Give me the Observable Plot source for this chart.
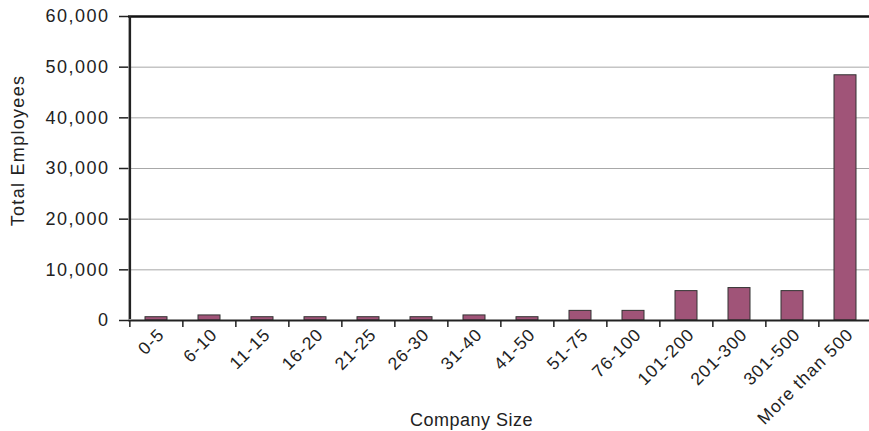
<!DOCTYPE html>
<html>
<head>
<meta charset="utf-8">
<script src="https://cdn.jsdelivr.net/npm/d3@7"></script>
<script src="https://cdn.jsdelivr.net/npm/@observablehq/plot@0.6"></script>
<style>
  html, body { margin: 0; padding: 0; background: #fff; overflow: hidden; }
</style>
</head>
<body>
<div id="chart"></div>
<script>
const categories = ["0-5", "6-10", "11-15", "16-20", "21-25", "26-30", "31-40", "41-50", "51-75", "76-100", "101-200", "201-300", "301-500", "More than 500"];
const employees = [650, 1000, 650, 650, 650, 650, 1000, 650, 1900, 1900, 5800, 6400, 5800, 48400];
const yTicks = [0, 10000, 20000, 30000, 40000, 50000, 60000];
const gridTicks = [10000, 20000, 30000, 40000, 50000];
const yTitle = "Total Employees";
const xTitle = "Company Size";

const data = categories.map((c, i) => ({size: c, total: employees[i]}));

const W = 869, H = 431;
const mL = 128, mR = -5, mT = 16, mB = 111;
const step = (W - mR - mL) / categories.length;
const font = "'Liberation Sans', Arial, Helvetica, sans-serif";

const chart = Plot.plot({
  width: W,
  height: H,
  marginLeft: mL,
  marginRight: mR,
  marginTop: mT,
  marginBottom: mB,
  style: {fontFamily: font, color: "#222", background: "#fff", overflow: "visible"},
  x: {domain: categories, paddingInner: 0.58, paddingOuter: 0.29, axis: null},
  y: {domain: [0, 60000], axis: null},
  marks: [
    Plot.ruleY(gridTicks, {stroke: "#a8a8a8", strokeWidth: 1}),
    Plot.ruleY([60000], {stroke: "#111", strokeWidth: 2.5}),
    Plot.barY(data, {x: "size", y: "total", fill: "#a05478", stroke: "#333", strokeWidth: 1}),
    Plot.ruleY([0], {stroke: "#222", strokeWidth: 2}),
    Plot.ruleX([categories[0]], {y1: 0, y2: 60000, dx: -step / 2, stroke: "#222", strokeWidth: 2.5, insetTop: -1}),
    // x ticks at category boundaries
    Plot.ruleX(categories, {y1: 0, y2: 0, dx: -step / 2, insetBottom: -7, stroke: "#222", strokeWidth: 1.5}),
    Plot.axisY({ticks: yTicks, tickSize: 9, tickPadding: 10, tickFormat: d3.format(","), fontSize: 18, strokeWidth: 1.5, label: null}),
    Plot.text(categories, {x: d => d, text: d => d, frameAnchor: "bottom", rotate: -45, textAnchor: "end", dy: 15, dx: 9, fontSize: 17.5, fill: "#222"}),
    Plot.text([yTitle], {frameAnchor: "left", rotate: -90, textAnchor: "middle", dx: -110, dy: -18, fontSize: 18, fill: "#222"}),
    Plot.text([xTitle], {frameAnchor: "bottom", textAnchor: "middle", dx: -30, dy: 105, fontSize: 18, fill: "#222"})
  ]
});

// slightly wider letter spacing, as in the reference lettering
d3.select(chart).selectAll("text").each(function() {
  const t = this.textContent;
  let ls = "1.5px";
  if (t === yTitle) ls = "1.3px";
  else if (t === xTitle) ls = "0.5px";
  else if (categories.includes(t)) ls = "1.1px";
  this.style.letterSpacing = ls;
});

document.getElementById("chart").appendChild(chart);
</script>
</body>
</html>
